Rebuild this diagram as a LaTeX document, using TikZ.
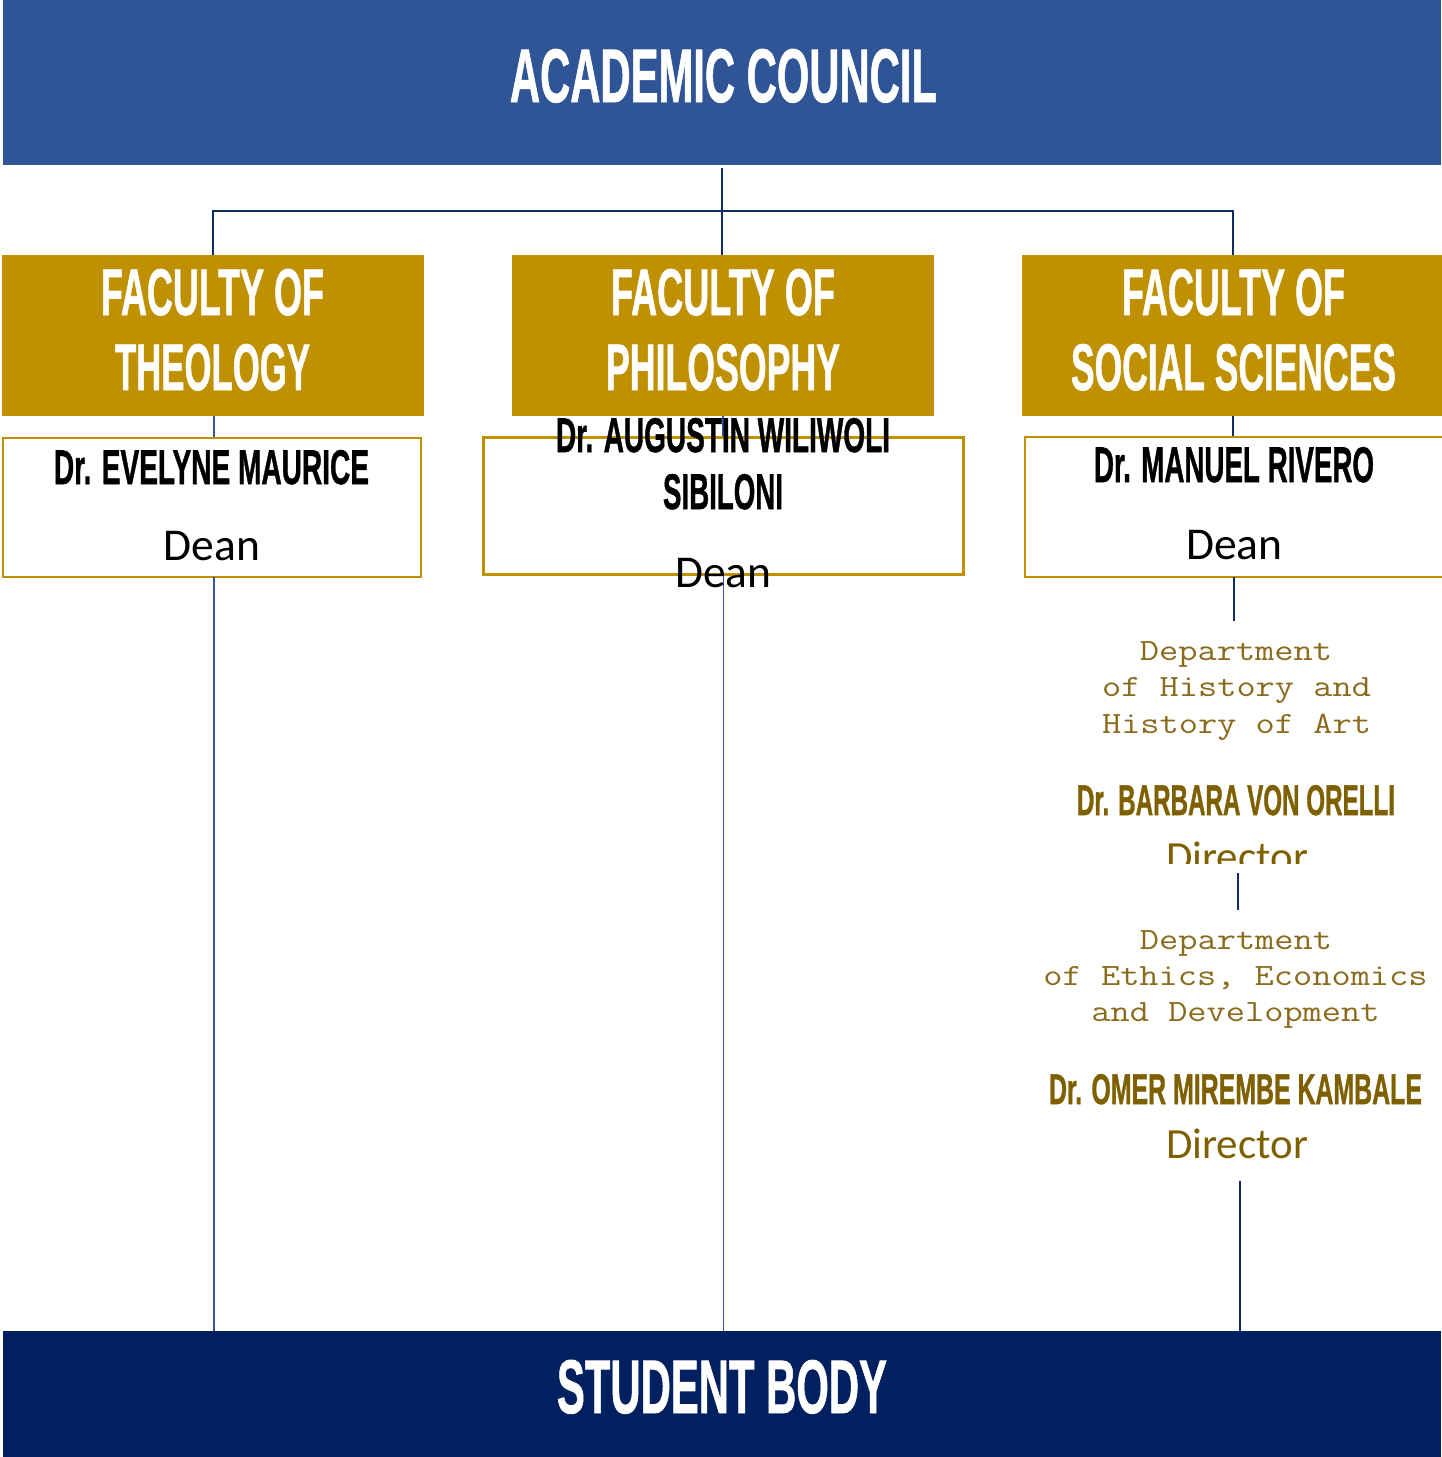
\documentclass[tikz,border=0pt]{standalone}
\usepackage{fontspec}
\usepackage{graphicx}
\setmainfont{Carlito}
\newfontfamily\condf{Liberation Sans}[BoldFeatures={FakeBold=1.2}]
\newcommand\cnd[3]{\resizebox{#1pt}{#2pt}{\condf\bfseries #3}}
\newcommand\mono[1]{\scalebox{1}[0.83]{\ttfamily #1}}
\definecolor{acblue}{HTML}{2F5597}
\definecolor{gold}{HTML}{BF9000}
\definecolor{sbnavy}{HTML}{002060}
\definecolor{brownname}{HTML}{7F6000}
\definecolor{deptcol}{HTML}{8A6A1C}
\definecolor{navyline}{HTML}{112B66}
\definecolor{lineblue}{HTML}{3356A0}
\tikzset{
  band/.style={inner sep=0pt, outer sep=0pt, anchor=north west},
  facbox/.style={band, fill=gold, minimum width=422pt, minimum height=161pt},
  deanbox/.style={inner sep=0pt, outer sep=0pt, anchor=north west, draw=gold, line width=2.5pt, fill=white},
  txt/.style={inner sep=0pt, outer sep=0pt, anchor=base},
  deantxt/.style={txt, font=\fontsize{45.5}{50}\selectfont},
  dirtxt/.style={txt, text=brownname, font=\fontsize{43}{48}\selectfont},
  depttxt/.style={txt, text=deptcol, font=\fontsize{37.3}{40}\selectfont},
  conn/.style={draw=navyline, line width=2.5pt},
  thinline/.style={draw=lineblue, line width=1.3pt},
  socline/.style={draw=navyline, line width=1.6pt},
}
\begin{document}
\begin{tikzpicture}[x=1pt,y=-1pt]
\useasboundingbox (0,0) rectangle (1441,1457);
% bands and boxes
\node[band, fill=acblue, minimum width=1438pt, minimum height=165pt] (ac) at (3,0) {};
\node[band, fill=sbnavy, minimum width=1438pt, minimum height=126pt] (sb) at (3,1331) {};
\node[facbox] (ft) at (2,255) {};
\node[facbox] (fp) at (512,255) {};
\node[facbox] (fs) at (1022,255) {};
% connectors
\coordinate (bar) at (722,211);
\draw[conn] ([yshift=-3pt]ac.south) -- (ac.south |- fp.north);
\draw[conn] (ft.north) |- (bar) -| (fs.north);
\draw[thinline] ([xshift=1pt]ft.south) -- ([xshift=1pt]ft.south |- 0,438);
\draw[thinline] (fp.south) -- (fp.south |- 0,438);
\draw[socline] (fs.south) -- (fs.south |- 0,437);
% dean boxes
\node[deanbox, minimum width=418pt, minimum height=139pt] (dt) at (3,438) {};
\node[deanbox, minimum width=480pt, minimum height=137pt] (dp) at (483.5,437.5) {};
\node[deanbox, minimum width=430pt, minimum height=140pt] (ds) at (1025,437) {};
% lower connectors
\coordinate (s1) at (1234,621);
\coordinate (s2a) at (1238,873);
\coordinate (s2b) at (1238,910);
\coordinate (s3) at (1240,1181);
\draw[thinline] ([xshift=2pt]dt.south) -- ([xshift=2pt]dt.south |- sb.north);
\draw[thinline] (dp.south) -- (dp.south |- sb.north);
\draw[socline] (s1 |- ds.south) -- (s1);
\draw[socline] (s2a) -- (s2b);
\draw[socline] (s3) -- (s3 |- sb.north);
% texts
\node[txt, text=white] (act) at (723.5,102) {\cnd{427}{53}{ACADEMIC COUNCIL}};
\node[txt, text=white] (sbt) at (722,1413) {\cnd{330}{53}{STUDENT BODY}};
\node[txt, text=white] (ft1) at (212.5,315) {\cnd{223}{46}{FACULTY OF}};
\node[txt, text=white] (ft2) at (212.5,390) {\cnd{195}{46}{THEOLOGY}};
\node[txt, text=white] (fp1) at (723,315) {\cnd{224}{46}{FACULTY OF}};
\node[txt, text=white] (fp2) at (723,390) {\cnd{234}{46}{PHILOSOPHY}};
\node[txt, text=white] (fs1) at (1233.5,315) {\cnd{223}{46}{FACULTY OF}};
\node[txt, text=white] (fs2) at (1233.5,390) {\cnd{325}{46}{SOCIAL SCIENCES}};
\node[txt] (dtn) at (211.5,484) {\cnd{315}{34}{Dr. EVELYNE MAURICE}};
\node[deantxt] (dtd) at (212,560) {Dean};
\node[txt] (dpn1) at (723,452) {\cnd{334}{34}{Dr. AUGUSTIN WILIWOLI}};
\node[txt] (dpn2) at (723,509) {\cnd{120}{35}{SIBILONI}};
\node[deantxt] (dpd) at (723.5,587) {Dean};
\node[txt] (dsn) at (1234,482) {\cnd{280}{35}{Dr. MANUEL RIVERO}};
\node[deantxt] (dsd) at (1234.5,559) {Dean};
% department 1
\node[depttxt] (h1) at (1236,660) {\mono{Department}};
\node[depttxt] (h2) at (1236.5,696) {\mono{of History and}};
\node[depttxt] (h3) at (1236.5,733) {\mono{History of Art}};
\node[txt, text=brownname] (hn) at (1236,815) {\cnd{318}{30}{Dr. BARBARA VON ORELLI}};
\begin{scope}
\clip (1000,820) rectangle (1441,863);
\node[dirtxt] (hd) at (1237,871) {Director};
\end{scope}
% department 2
\node[depttxt] (e1) at (1236,949) {\mono{Department}};
\node[depttxt] (e2) at (1235.5,985) {\mono{of Ethics, Economics}};
\node[depttxt] (e3) at (1235.5,1021) {\mono{and Development}};
\node[txt, text=brownname] (en) at (1235.5,1104) {\cnd{373}{30}{Dr. OMER MIREMBE KAMBALE}};
\node[dirtxt] (ed) at (1237,1158) {Director};
\end{tikzpicture}
\end{document}
